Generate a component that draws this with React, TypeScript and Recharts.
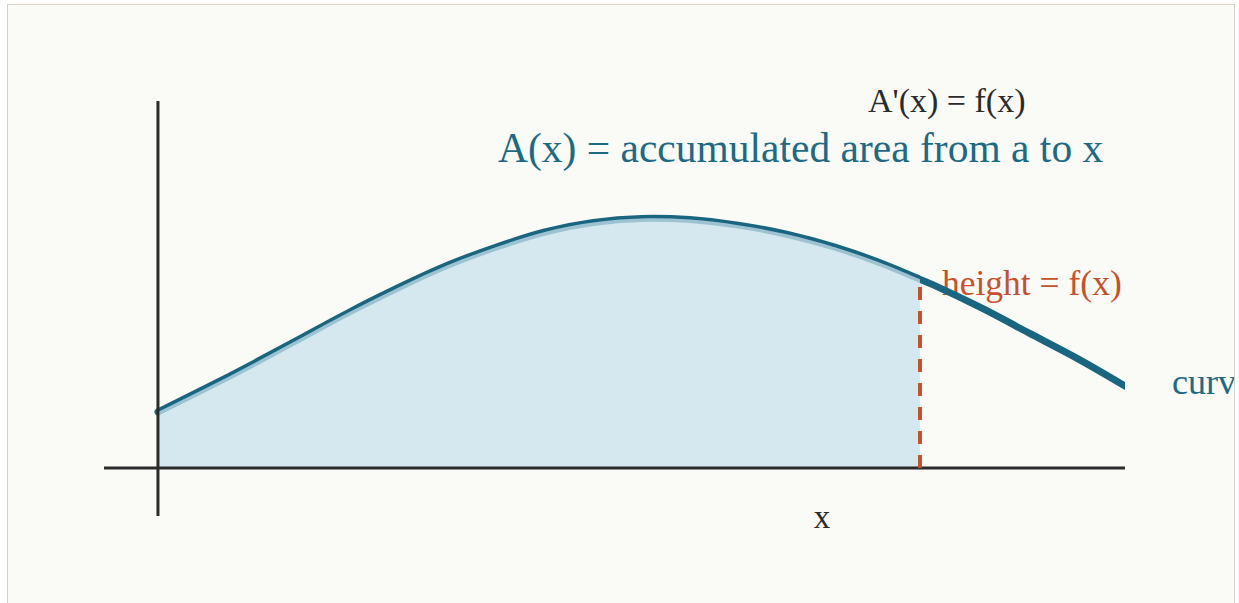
import React from "react";
import { ComposedChart, Area, XAxis, YAxis, ReferenceLine } from "recharts";

const xs = [0, 0.5, 1, 1.5, 2, 2.5, 3, 3.5, 4, 4.5, 5, 5.5, 6, 6.5, 7, 7.5, 7.88, 8, 8.5, 9, 9.5, 10];
const fs = [1.167, 1.667, 2.188, 2.729, 3.271, 3.771, 4.229, 4.604, 4.917, 5.115, 5.2, 5.175, 5.06, 4.87, 4.6, 4.25, 3.93, 3.83, 3.35, 2.82, 2.29, 1.708];
const xMarker = 7.88;
const xDomain: [number, number] = [-0.558, 10];
const yDomain: [number, number] = [-1, 7.646];

const texts = {
  derivative: "A'(x) = f(x)",
  accumulated: "A(x) = accumulated area from a to x",
  height: "height = f(x)",
  curve: "curve f(x)",
  xLabel: "x",
};

const data = xs.map((x, i) => ({ x, f: fs[i], fa: x <= xMarker ? fs[i] : null }));
const fMarker = fs[xs.indexOf(xMarker)];

const FONT = "'Liberation Serif', serif";

export default function App() {
  return (
    <div
      style={{
        position: "absolute",
        left: 7,
        top: 4,
        width: 1226,
        height: 640,
        border: "1px solid #d9d0c6",
        background: "#fafaf7",
        overflow: "hidden",
      }}
    >
      <div style={{ position: "absolute", left: -8, top: -5 }}>
        <ComposedChart
          width={1239}
          height={603}
          data={data}
          margin={{ left: 104, right: 114, top: 101, bottom: 87 }}
        >
          <XAxis type="number" dataKey="x" domain={xDomain} hide allowDataOverflow />
          <YAxis type="number" domain={yDomain} hide allowDataOverflow />
          <ReferenceLine y={0} stroke="#2b2b2b" strokeWidth={3} />
          <ReferenceLine x={0} stroke="#2b2b2b" strokeWidth={3} />
          <Area
            type="natural"
            dataKey="f"
            stroke="#1a6680"
            strokeWidth={7}
            strokeLinecap="round"
            fill="none"
            isAnimationActive={false}
            dot={false}
            activeDot={false}
          />
          <Area
            type="natural"
            dataKey="fa"
            stroke="none"
            fill="#c9e1ec"
            fillOpacity={0.75}
            isAnimationActive={false}
            dot={false}
            activeDot={false}
          />
          <ReferenceLine
            segment={[{ x: xMarker, y: 0 }, { x: xMarker, y: fMarker }]}
            stroke="#c8502a"
            strokeWidth={4}
            strokeDasharray="13 11"
          />
          <text x={868} y={112} fontFamily={FONT} fontSize={34} fill="#2b2b2b">{texts.derivative}</text>
          <text x={498} y={162} fontFamily={FONT} fontSize={41.5} fill="#1d6a85">{texts.accumulated}</text>
          <text x={942} y={295} fontFamily={FONT} fontSize={35.5} fill="#c8502a">{texts.height}</text>
          <text x={1172} y={394} fontFamily={FONT} fontSize={36} fill="#1d6a85">{texts.curve}</text>
          <text x={822} y={528} fontFamily={FONT} fontSize={33} fill="#2b2b2b" textAnchor="middle">{texts.xLabel}</text>
        </ComposedChart>
      </div>
    </div>
  );
}
